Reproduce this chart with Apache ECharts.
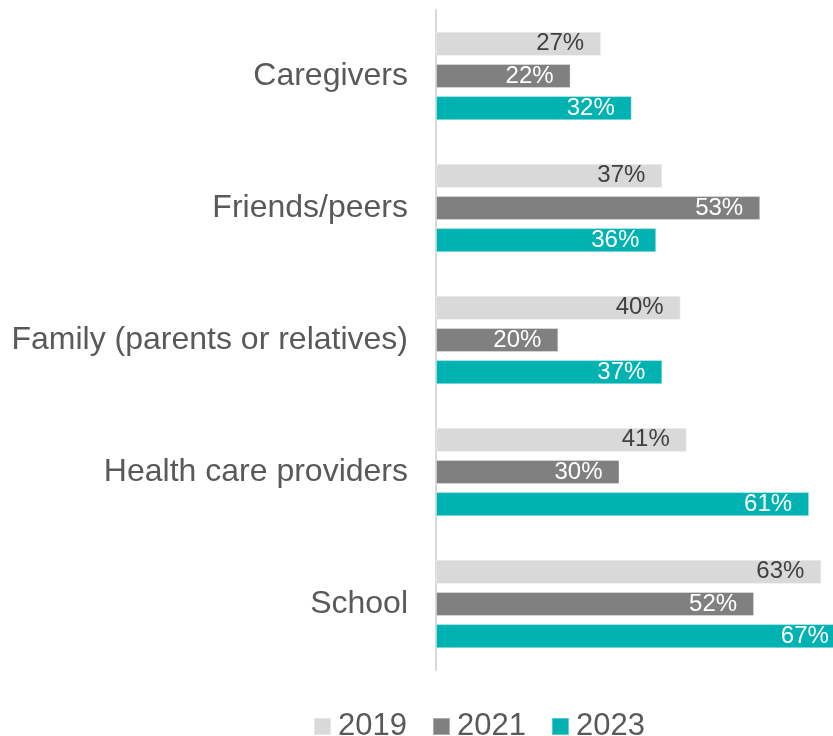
<!DOCTYPE html>
<html>
<head>
<meta charset="utf-8">
<script src="https://cdn.jsdelivr.net/npm/echarts@6/dist/echarts.min.js"></script>
<style>
  html, body { margin: 0; padding: 0; background: #ffffff; }
  #chart { width: 833px; height: 736px; }
</style>
</head>
<body>
<div id="chart"></div>
<script>
// Sources of support, share of respondents by survey year
const categories = ['Caregivers', 'Friends/peers', 'Family (parents or relatives)', 'Health care providers', 'School'];
const years = ['2019', '2021', '2023'];
const values2019 = [27, 37, 40, 41, 63];
const values2021 = [22, 53, 20, 30, 52];
const values2023 = [32, 36, 37, 61, 67];

const FONT = '"Liberation Sans", Arial, sans-serif';
const colors = ['#d9d9d9', '#808080', '#00b2b2'];
const labelColors = ['#404040', '#ffffff', '#ffffff'];
const seriesValues = [values2019, values2021, values2023];

const chart = echarts.init(document.getElementById('chart'), null, { renderer: 'canvas' });

chart.setOption({
  animation: false,
  backgroundColor: '#ffffff',
  textStyle: { fontFamily: FONT },
  legend: {
    data: years,
    left: 308,
    top: 706,
    icon: 'rect',
    itemWidth: 17,
    itemHeight: 17,
    itemGap: 25,
    textStyle: { fontFamily: FONT, fontSize: 31, color: '#595959', padding: [0, 0, 0, 2] }
  },
  // the plot runs to the right edge; the longest bar is allowed to run past it
  grid: { left: 436, top: 10, right: 0, height: 660, containLabel: false },
  xAxis: {
    type: 'value',
    min: 0,
    max: 64.9,
    show: false
  },
  yAxis: {
    type: 'category',
    data: categories,
    inverse: true,
    axisLine: { show: true, lineStyle: { color: '#d9d9d9', width: 2 } },
    axisTick: { show: false },
    splitLine: { show: false },
    axisLabel: { fontFamily: FONT, fontSize: 32, color: '#595959', margin: 28 }
  },
  series: years.map((y, i) => ({
    name: y,
    type: 'bar',
    data: seriesValues[i],
    clip: false,
    barCategoryGap: '33%',
    barGap: '33%',
    itemStyle: { color: colors[i], borderColor: 'rgba(255,255,255,0.35)', borderWidth: 1 },
    label: {
      show: true,
      position: 'insideRight',
      distance: 17,
      formatter: p => p.value + '%',
      fontFamily: FONT,
      fontSize: 24,
      color: labelColors[i]
    }
  }))
});
</script>
</body>
</html>
